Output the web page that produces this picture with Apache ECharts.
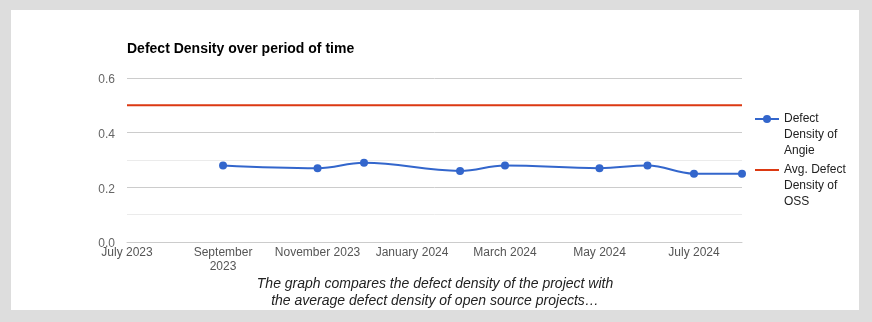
<!DOCTYPE html>
<html>
<head>
<meta charset="utf-8">
<script src="https://cdn.jsdelivr.net/npm/echarts@6/dist/echarts.min.js"></script>
<style>
  html, body { margin: 0; padding: 0; background: #dddddd; }
  #panel { position: absolute; left: 11px; top: 10px; width: 848px; height: 300px; background: #ffffff; }
  #chart { position: absolute; left: 0; top: 0; width: 872px; height: 322px; }
</style>
</head>
<body>
<div id="panel"></div>
<div id="chart"></div>
<script>
// Monthly defect density measurements for the project
const angieDates  = ['2023-09-01', '2023-11-01', '2023-12-01', '2024-02-01', '2024-03-01', '2024-05-01', '2024-06-01', '2024-07-01', '2024-08-01'];
const angieValues = [0.28, 0.27, 0.29, 0.26, 0.28, 0.27, 0.28, 0.25, 0.25];

// Open-source average, constant over the whole period
const ossDates  = ['2023-07-01', '2023-09-01', '2023-11-01', '2023-12-01', '2024-02-01', '2024-03-01', '2024-05-01', '2024-06-01', '2024-07-01', '2024-08-01'];
const ossValues = [0.5, 0.5, 0.5, 0.5, 0.5, 0.5, 0.5, 0.5, 0.5, 0.5];

// Horizontal axis ticks
const xTickDates  = ['2023-07-01', '2023-09-01', '2023-11-01', '2024-01-01', '2024-03-01', '2024-05-01', '2024-07-01'];
const xTickLabels = ['July 2023', 'September\n2023', 'November 2023', 'January 2024', 'March 2024', 'May 2024', 'July 2024'];

const seriesNames = ['Defect Density of Angie', 'Avg. Defect Density of OSS'];
const legendLabels = ['Defect\nDensity of\nAngie', 'Avg. Defect\nDensity of\nOSS'];

const FONT = 'Arial, "Liberation Sans", sans-serif';
const toTime = d => Date.UTC(+d.slice(0, 4), +d.slice(5, 7) - 1, +d.slice(8, 10));
const tickTimes = xTickDates.map(toTime);

const chart = echarts.init(document.getElementById('chart'), null, { renderer: 'canvas' });

// Legend text is centred on its icon, so two blank lines put the first
// wrapped line level with the icon.
const legendBase = {
  orient: 'vertical',
  padding: 0,
  itemWidth: 24,
  selectedMode: false,
  textStyle: { fontFamily: FONT, fontSize: 12, color: '#222', lineHeight: 16 },
  formatter: name => ' \n \n' + legendLabels[seriesNames.indexOf(name)]
};

chart.setOption({
  animation: false,
  textStyle: { fontFamily: FONT },
  title: {
    text: 'Defect Density over period of time',
    left: 122,
    top: 37,
    textStyle: { fontFamily: FONT, fontSize: 14, fontWeight: 'bold', color: '#000' }
  },
  legend: [
    Object.assign({}, legendBase, { left: 754, top: 79, itemHeight: 10, data: [seriesNames[0]] }),
    Object.assign({}, legendBase, { left: 755, top: 130, itemHeight: 2, data: [{ name: seriesNames[1], icon: 'rect' }] })
  ],
  grid: { left: 127, right: 130, top: 78, bottom: 80, containLabel: false },
  xAxis: {
    type: 'value',
    min: toTime('2023-07-01'),
    max: toTime('2024-08-01'),
    axisLine: { show: true, lineStyle: { color: '#cccccc', width: 1 } },
    axisTick: { show: false },
    splitLine: { show: false },
    axisLabel: {
      customValues: tickTimes,
      formatter: v => {
        const i = tickTimes.indexOf(v);
        return i >= 0 ? xTickLabels[i] : '';
      },
      color: '#555',
      fontSize: 12,
      fontFamily: FONT,
      lineHeight: 14,
      margin: 4,
      hideOverlap: false
    }
  },
  yAxis: {
    type: 'value',
    min: 0,
    max: 0.6,
    interval: 0.2,
    axisLine: { show: false },
    axisTick: { show: false },
    axisLabel: { formatter: v => v.toFixed(1), color: '#666', fontSize: 12, fontFamily: FONT, margin: 12, verticalAlign: 'top', lineHeight: 4 },
    splitLine: { lineStyle: { color: '#cccccc', width: 1 } },
    minorTick: { show: false, splitNumber: 2 },
    minorSplitLine: { show: true, lineStyle: { color: '#ebebeb', width: 1 } }
  },
  graphic: [
    {
      type: 'text',
      x: 435,
      y: 276,
      style: {
        text: 'The graph compares the defect density of the project with\nthe average defect density of open source projects\u2026',
        font: 'italic 14px ' + FONT,
        fill: '#222',
        align: 'center',
        verticalAlign: 'top',
        lineHeight: 17
      }
    }
  ],
  series: [
    {
      name: seriesNames[0],
      type: 'line',
      data: angieDates.map((d, i) => [toTime(d), angieValues[i]]),
      smooth: 0.4,
      smoothMonotone: 'x',
      symbol: 'circle',
      symbolSize: 8,
      lineStyle: { color: '#3366cc', width: 2 },
      itemStyle: { color: '#3366cc' },
      z: 3
    },
    {
      name: seriesNames[1],
      type: 'line',
      data: ossDates.map((d, i) => [toTime(d), ossValues[i]]),
      symbol: 'none',
      lineStyle: { color: '#dc3912', width: 2 },
      itemStyle: { color: '#dc3912' },
      z: 2
    }
  ]
});
</script>
</body>
</html>
